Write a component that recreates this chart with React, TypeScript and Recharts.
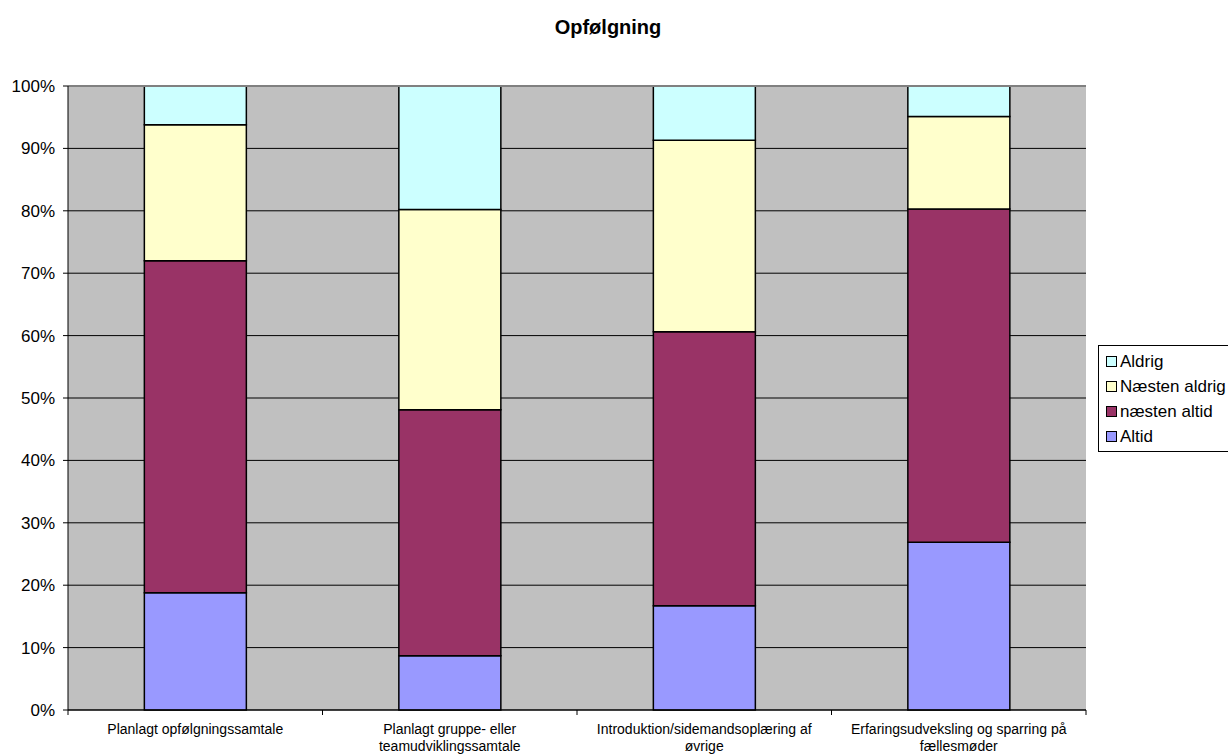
import React from 'react';
import { BarChart, Bar, XAxis, YAxis, CartesianGrid, ReferenceLine, Text } from 'recharts';

const categories = [
  'Planlagt opfølgningssamtale',
  'Planlagt gruppe- eller teamudviklingssamtale',
  'Introduktion/sidemandsoplæring af øvrige',
  'Erfaringsudveksling og sparring på fællesmøder',
];

// percentages per category, stacked bottom to top
const altid = [18.8, 8.7, 16.7, 26.9];
const naestenAltid = [53.2, 39.4, 43.9, 53.4];
const naestenAldrig = [21.8, 32.1, 30.7, 14.8];
const aldrig = [6.2, 19.8, 8.7, 4.9];

const yTicks = [0, 10, 20, 30, 40, 50, 60, 70, 80, 90, 100];

const series = [
  { key: 'altid', name: 'Altid', color: '#9999FF' },
  { key: 'naestenAltid', name: 'næsten altid', color: '#993366' },
  { key: 'naestenAldrig', name: 'Næsten aldrig', color: '#FFFFCC' },
  { key: 'aldrig', name: 'Aldrig', color: '#CCFFFF' },
];

const data = categories.map((name, i) => ({
  name,
  altid: altid[i],
  naestenAltid: naestenAltid[i],
  naestenAldrig: naestenAldrig[i],
  aldrig: aldrig[i],
}));

const FONT = '"Liberation Sans", Arial, Helvetica, sans-serif';
const PLOT_WIDTH = 1018;

function CategoryTick(props: any) {
  const { x, y, payload, index } = props;
  const band = PLOT_WIDTH / categories.length;
  const left = x - band / 2;
  return (
    <g>
      <line x1={left} y1={y - 8} x2={left} y2={y - 3} stroke="#000" />
      {index === categories.length - 1 && (
        <line x1={left + band} y1={y - 8} x2={left + band} y2={y - 3} stroke="#000" />
      )}
      <Text
        x={x}
        y={y + 6}
        width={228}
        textAnchor="middle"
        verticalAnchor="start"
        lineHeight={17}
        fontSize={14}
        fontFamily={FONT}
        fill="#000"
      >
        {payload.value}
      </Text>
    </g>
  );
}

function LegendBox() {
  const items = [...series].reverse();
  return (
    <div
      style={{
        position: 'absolute',
        left: 1098,
        top: 345,
        width: 150,
        height: 107,
        border: '1px solid #000',
        boxSizing: 'border-box',
        padding: '3px 0 0 7px',
        fontFamily: FONT,
        fontSize: 17,
        background: '#fff',
      }}
    >
      {items.map((s) => (
        <div key={s.key} style={{ display: 'flex', alignItems: 'center', height: 25 }}>
          <span
            style={{
              display: 'inline-block',
              width: 9,
              height: 9,
              border: '1px solid #000',
              background: s.color,
              marginRight: 3,
            }}
          />
          <span style={{ whiteSpace: 'nowrap' }}>{s.name}</span>
        </div>
      ))}
    </div>
  );
}

export default function App() {
  return (
    <div
      style={{
        position: 'absolute',
        left: 0,
        top: 0,
        width: 1228,
        height: 756,
        overflow: 'hidden',
        background: '#fff',
        fontFamily: FONT,
      }}
    >
      <div
        style={{
          position: 'absolute',
          left: 0,
          top: 16,
          width: 1216,
          textAlign: 'center',
          fontSize: 20,
          fontWeight: 'bold',
        }}
      >
        Opfølgning
      </div>
      <BarChart
        width={1228}
        height={756}
        data={data}
        margin={{ top: 86, right: 142, bottom: 6, left: 8 }}
        barCategoryGap="30%"
      >
        <CartesianGrid
          vertical={false}
          stroke="#000"
          fill="#C0C0C0"
          fillOpacity={1}
        />
        <XAxis
          dataKey="name"
          height={40}
          axisLine={{ stroke: '#000' }}
          tickLine={false}
          interval={0}
          tick={<CategoryTick />}
        />
        <YAxis
          width={60}
          domain={[0, 100]}
          ticks={yTicks}
          tickFormatter={(v) => `${v}%`}
          axisLine={{ stroke: '#000' }}
          tickLine={{ stroke: '#000' }}
          tickSize={5}
          tickMargin={8}
          tick={{ fill: '#000', fontSize: 17, fontFamily: FONT }}
        />
        <YAxis
          yAxisId="frame"
          orientation="right"
          width={0}
          domain={[0, 100]}
          tick={false}
          tickLine={false}
          axisLine={{ stroke: '#808080' }}
        />
        <ReferenceLine y={100} stroke="#808080" strokeWidth={2} />
        {series.map((s) => (
          <Bar
            key={s.key}
            dataKey={s.key}
            name={s.name}
            stackId="a"
            fill={s.color}
            stroke="#000"
            strokeWidth={1.5}
            isAnimationActive={false}
          />
        ))}
      </BarChart>
      <LegendBox />
    </div>
  );
}
